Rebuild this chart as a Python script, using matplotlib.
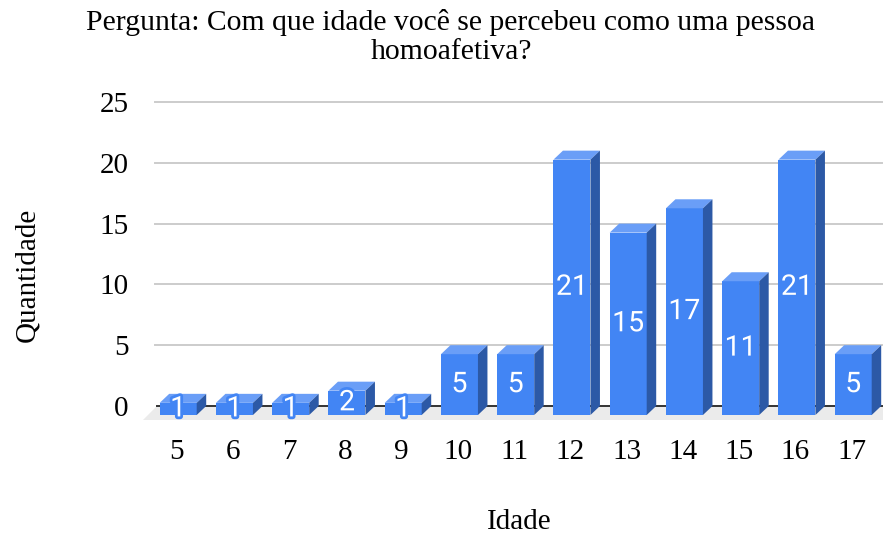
import matplotlib
matplotlib.use("Agg")
import matplotlib.pyplot as plt
from matplotlib.patches import Polygon
import matplotlib.patheffects as pe

ages = ["5", "6", "7", "8", "9", "10", "11", "12", "13", "14", "15", "16", "17"]
counts = [1, 1, 1, 2, 1, 5, 5, 21, 15, 17, 11, 21, 5]
yticks = [0, 5, 10, 15, 20, 25]

title = "Pergunta: Com que idade você se percebeu como uma pessoa\nhomoafetiva?"
xlabel = "Idade"
ylabel = "Quantidade"

W, H = 884, 536
fig = plt.figure(figsize=(W / 100, H / 100), dpi=100)

# pixel mapping helpers
X0, XS = 176.7, 56.25      # px of first category, px per category
Y0, YS = 406.0, 12.16      # px of zero, px per unit
L, R, T, B = 130, 884, 95, 425

ax = fig.add_axes([L / W, 1 - B / H, (R - L) / W, (B - T) / H])
ax.set_xlim((L - X0) / XS, (R - X0) / XS)
ax.set_ylim((Y0 - B) / YS, (Y0 - T) / YS)
for s in ax.spines.values():
    s.set_visible(False)

def px2x(p):
    return (p - X0) / XS

def px2y(p):
    return (Y0 - p) / YS

serif = ["Liberation Serif", "DejaVu Serif"]

# floor
floor = Polygon([(px2x(157), 0), (px2x(883), 0), (px2x(883), px2y(420)),
                 (px2x(143), px2y(420))], closed=True, facecolor="#ebebeb",
                edgecolor="none", zorder=0)
ax.add_patch(floor)

# grid
for v in yticks[1:]:
    ax.plot([px2x(155), px2x(882)], [v, v], color="#cccccc", lw=1.4, zorder=1)
ax.plot([px2x(157), px2x(882)], [0, 0], color="#333333", lw=1.4, zorder=1)

# 3D bars
dx = 9.5 / XS
dy = 9.0 / YS
width = 37.0 / XS
shift = 1.5 / XS
front_c = "#4285f4"
top_c = "#6a9ef7"
side_c = "#2c59a6"

xs = list(range(len(ages)))
bars = ax.bar([x + shift for x in xs], counts, width=width, bottom=-dy,
              color=front_c, zorder=3, linewidth=0)
for b, v in zip(bars, counts):
    x0 = b.get_x()
    x1 = x0 + b.get_width()
    ytop = b.get_y() + b.get_height()
    ybot = b.get_y()
    top = Polygon([(x0, ytop), (x1, ytop), (x1 + dx, ytop + dy), (x0 + dx, ytop + dy)],
                  closed=True, facecolor=top_c, edgecolor="none", zorder=3)
    side = Polygon([(x1, ybot), (x1 + dx, ybot + dy), (x1 + dx, ytop + dy), (x1, ytop)],
                   closed=True, facecolor=side_c, edgecolor="none", zorder=3)
    ax.add_patch(top)
    ax.add_patch(side)
    ax.text(x0 + b.get_width() / 2, ybot + b.get_height() / 2, str(v),
            ha="center", va="center", color="white", fontsize=20.5,
            family=["Roboto", "DejaVu Sans"], zorder=5,
            path_effects=[pe.withStroke(linewidth=4, foreground=front_c)])

ax.set_xticks(xs)
ax.set_xticklabels(ages, family=serif, fontsize=21)
ax.set_yticks(yticks)
ax.set_yticklabels([str(v) for v in yticks], family=serif, fontsize=21)
ax.tick_params(axis="both", length=0)
ax.tick_params(axis="x", pad=10)
ax.tick_params(axis="y", pad=1)

fig.text(451 / W, 1 - 9 / H, title, ha="center", va="top", family=serif,
         fontsize=21.3, linespacing=1.13)
fig.text(519 / W, 1 - 522 / H, xlabel, ha="center", va="center", family=serif, fontsize=21)
fig.text(27 / W, 1 - 275 / H, ylabel, ha="center", va="center", family=serif,
         fontsize=21, rotation=90)

fig.savefig("out.png", dpi=100)
